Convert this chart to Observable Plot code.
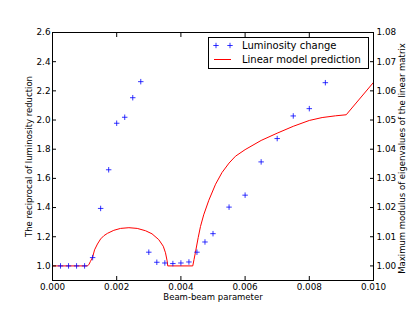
<!DOCTYPE html>
<html><head><meta charset="utf-8">
<script src="https://cdn.jsdelivr.net/npm/d3@7"></script>
<script src="https://cdn.jsdelivr.net/npm/@observablehq/plot@0.6"></script>
<style>
body{margin:0;background:#fff;}
#wrap{position:relative;width:415px;height:312px;font-family:"DejaVu Sans";}
#wrap svg{position:absolute;left:0;top:0;}
</style></head><body><div id="wrap"></div>
<script>
// Measured luminosity change (left axis)
const betaPts = [0.00025,0.0005,0.00075,0.001,0.00125,0.0015,0.00175,0.002,0.00225,0.0025,0.00275,0.003,0.00325,0.0035,0.00375,0.004,0.00425,0.0045,0.00475,0.005,0.0055,0.006,0.0065,0.007,0.0075,0.008,0.0085];
const lumiPts = [1.0,1.0,1.0,1.0,1.057,1.394,1.659,1.978,2.019,2.153,2.263,1.094,1.025,1.02,1.016,1.02,1.027,1.094,1.164,1.221,1.403,1.485,1.713,1.873,2.028,2.078,2.256];
// Linear model prediction (right axis: maximum modulus of eigenvalues)
const modelBeta = [0,0.00109,0.00114,0.00118,0.00125,0.00131,0.0014,0.0015,0.0016,0.00171,0.00191,0.00212,0.00238,0.00264,0.0029,0.0031,0.00331,0.00345,0.00352,0.00357,0.00359,0.00437,0.00441,0.00445,0.00454,0.00461,0.00471,0.00487,0.00508,0.00528,0.0055,0.0057,0.006,0.0065,0.007,0.0075,0.008,0.0084,0.00882,0.00915,0.01];
const modelModulus = [1.0,1.0,1.0006,1.0015,1.003,1.0055,1.0075,1.00925,1.01035,1.01115,1.0122,1.01285,1.0131,1.01285,1.01205,1.011,1.009,1.00675,1.0045,1.00175,1.0,1.0,1.00225,1.0045,1.00975,1.0135,1.0175,1.0225,1.028,1.032,1.03525,1.0376,1.03985,1.043,1.0455,1.04785,1.04985,1.05085,1.05145,1.0518,1.0629];
const xTicks = [0,0.002,0.004,0.006,0.008,0.010];
const leftTicks = [1.0,1.2,1.4,1.6,1.8,2.0,2.2,2.4,2.6];
const rightTicks = [1.00,1.01,1.02,1.03,1.04,1.05,1.06,1.07,1.08];
const xLabel = "Beam-beam parameter";
const yLabelLeft = "The reciprocal of luminosity reduction";
const yLabelRight = "Maximum modulus of eigenvalues of the linear matrix";
const legendLabels = ["Luminosity change", "Linear model prediction"];

// twin axes: right 1.00 <-> left 1.0, right 1.08 <-> left 2.6
const toLeft = r => 1 + (r - 1) * 20;
const fromLeft = v => 1 + (v - 1) / 20;

const lumi = betaPts.map((b, i) => ({b, v: lumiPts[i]}));
const model = modelBeta.map((b, i) => ({b, v: toLeft(modelModulus[i])}));
const blank = () => "";

const chart = Plot.plot({
  width: 415, height: 312,
  marginLeft: 52, marginRight: 42, marginTop: 32, marginBottom: 32,
  style: {fontFamily: "DejaVu Sans", fontSize: "8.8px", background: "transparent", color: "#000"},
  x: {domain: [0, 0.01]},
  y: {domain: [0.9, 2.6]},
  marks: [
    Plot.line(model, {x: "b", y: "v", stroke: "#ff0000", strokeWidth: 1, clip: true}),
    Plot.dot(lumi, {x: "b", y: "v", symbol: "plus", r: 1.9, stroke: "#0000ff", strokeWidth: 0.8}),
    Plot.frame({stroke: "#000", strokeWidth: 1}),
    Plot.axisX({anchor: "bottom", ticks: xTicks, tickSize: 0, tickPadding: 3, tickFormat: d3.format(".3f"), label: null}),
    Plot.axisX({anchor: "bottom", ticks: xTicks, tickSize: -4, tickFormat: blank, label: null}),
    Plot.axisX({anchor: "top", ticks: xTicks, tickSize: -4, tickFormat: blank, label: null}),
    Plot.axisY({anchor: "left", ticks: leftTicks, tickSize: 0, tickPadding: 2, tickFormat: d3.format(".1f"), label: null}),
    Plot.axisY({anchor: "left", ticks: leftTicks, tickSize: -4, tickFormat: blank, label: null}),
    Plot.axisY({anchor: "right", ticks: rightTicks.map(toLeft), tickSize: 0, tickPadding: 3, tickFormat: v => fromLeft(v).toFixed(2), label: null}),
    Plot.axisY({anchor: "right", ticks: rightTicks.map(toLeft), tickSize: -4, tickFormat: blank, label: null}),
    Plot.text([xLabel], {frameAnchor: "bottom", dy: 17, text: d => d, fontSize: 8.5, textAnchor: "middle", lineAnchor: "middle"}),
    Plot.text([yLabelLeft], {frameAnchor: "left", dx: -23, rotate: -90, text: d => d, fontSize: 8.5, textAnchor: "middle", lineAnchor: "middle"}),
    Plot.text([yLabelRight], {frameAnchor: "right", dx: 29, dy: 2, rotate: -90, text: d => d, fontSize: 8.5, textAnchor: "middle", lineAnchor: "middle"})
  ]
});
const wrap = document.getElementById("wrap");
wrap.appendChild(chart);

// legend overlay
const lg = d3.select(wrap).append("svg").attr("width", 415).attr("height", 312)
  .style("pointer-events", "none").style("font-family", "DejaVu Sans");
lg.append("rect").attr("x", 208.5).attr("y", 37.5).attr("width", 160).attr("height", 31)
  .attr("fill", "#fff").attr("stroke", "#000").attr("stroke-width", 1);
[216, 230].forEach(cx => {
  lg.append("path").attr("d", `M${cx-2.7},45.5H${cx+2.7}M${cx},42.8V48.2`)
    .attr("stroke", "#0000ff").attr("stroke-width", 0.8).attr("fill", "none");
});
lg.append("line").attr("x1", 214).attr("x2", 231).attr("y1", 59.5).attr("y2", 59.5)
  .attr("stroke", "#ff0000").attr("stroke-width", 1);
lg.selectAll("text.l").data(legendLabels).join("text")
  .attr("x", 242).attr("y", (d, i) => 49 + i * 14).attr("font-size", 10).text(d => d);
</script></body></html>
